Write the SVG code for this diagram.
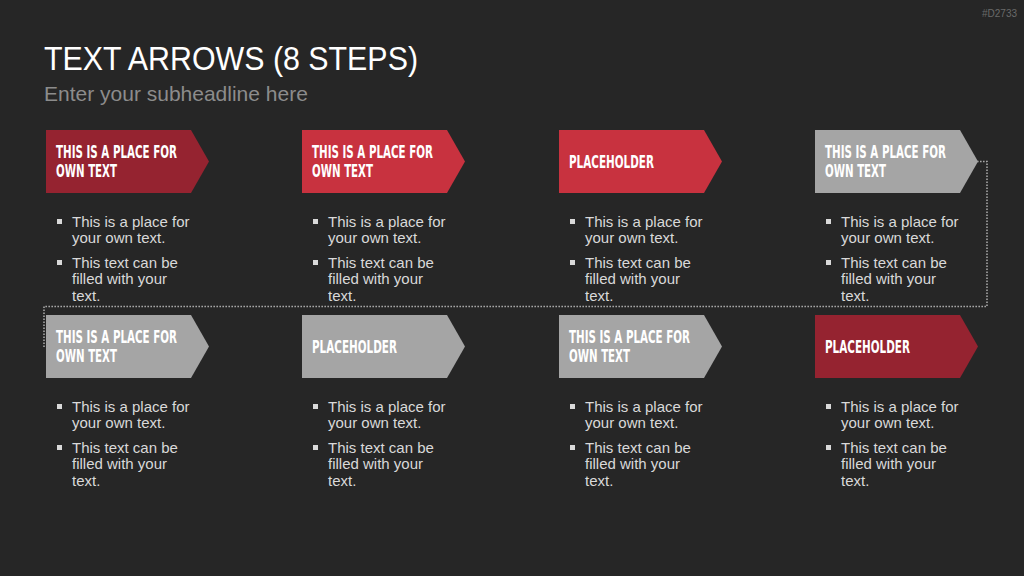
<svg xmlns="http://www.w3.org/2000/svg" width="1024" height="576" viewBox="0 0 1024 576">
<style>
.bg{fill:#262626}
.title{font-family:"Liberation Sans",Arial,sans-serif;font-size:33px;fill:#ffffff}
.sub{font-family:"Liberation Sans",Arial,sans-serif;font-size:21px;fill:#8c8c8c}
.code{font-family:"Liberation Sans",Arial,sans-serif;font-size:10px;fill:#6a6a6a}
.lbl{font-family:"Liberation Sans Narrow","DejaVu Sans Condensed","Liberation Sans",sans-serif;font-weight:bold;font-size:18.5px;fill:#ffffff}
.body{font-family:"Liberation Sans",Arial,sans-serif;font-size:15px;fill:#d9d9d9}
.blt{fill:#d9d9d9}
.dk{fill:#952330}
.rd{fill:#c8323f}
.gr{fill:#a5a5a5}
.conn{fill:none;stroke:#a6a6a6;stroke-width:1.6;stroke-dasharray:1.6 1.4}
</style>
<defs>
<polygon id="arr" points="0,0 145,0 163,31.5 145,63 0,63"/>
<g id="bul">
<rect class="blt" x="11" y="89" width="5" height="5"/>
<rect class="blt" x="11" y="130" width="5" height="5"/>
<text class="body" x="26" y="97">This is a place for</text>
<text class="body" x="26" y="113">your own text.</text>
<text class="body" x="26" y="138">This text can be</text>
<text class="body" x="26" y="154">filled with your</text>
<text class="body" x="26" y="171">text.</text>
</g>
</defs>
<rect class="bg" x="0" y="0" width="1024" height="576"/>
<text class="code" x="1017" y="17" text-anchor="end">#D2733</text>
<text class="title" x="44" y="70" textLength="374" lengthAdjust="spacingAndGlyphs">TEXT ARROWS (8 STEPS)</text>
<text class="sub" x="44" y="101">Enter your subheadline here</text>

<g id="connectors">
<path class="conn" d="M977,161.5 H987 V306.5 H44 V347"/>
</g>

<g id="node1" transform="translate(46,130)">
<use href="#arr" class="dk"/>
<text class="lbl" x="10" y="28" textLength="121" lengthAdjust="spacingAndGlyphs">THIS IS A PLACE FOR</text>
<text class="lbl" x="10" y="47" textLength="61" lengthAdjust="spacingAndGlyphs">OWN TEXT</text>
<use href="#bul"/>
</g>
<g id="node2" transform="translate(302,130)">
<use href="#arr" class="rd"/>
<text class="lbl" x="10" y="28" textLength="121" lengthAdjust="spacingAndGlyphs">THIS IS A PLACE FOR</text>
<text class="lbl" x="10" y="47" textLength="61" lengthAdjust="spacingAndGlyphs">OWN TEXT</text>
<use href="#bul"/>
</g>
<g id="node3" transform="translate(559,130)">
<use href="#arr" class="rd"/>
<text class="lbl" x="10" y="38" textLength="85" lengthAdjust="spacingAndGlyphs">PLACEHOLDER</text>
<use href="#bul"/>
</g>
<g id="node4" transform="translate(815,130)">
<use href="#arr" class="gr"/>
<text class="lbl" x="10" y="28" textLength="121" lengthAdjust="spacingAndGlyphs">THIS IS A PLACE FOR</text>
<text class="lbl" x="10" y="47" textLength="61" lengthAdjust="spacingAndGlyphs">OWN TEXT</text>
<use href="#bul"/>
</g>
<g id="node5" transform="translate(46,315)">
<use href="#arr" class="gr"/>
<text class="lbl" x="10" y="28" textLength="121" lengthAdjust="spacingAndGlyphs">THIS IS A PLACE FOR</text>
<text class="lbl" x="10" y="47" textLength="61" lengthAdjust="spacingAndGlyphs">OWN TEXT</text>
<use href="#bul"/>
</g>
<g id="node6" transform="translate(302,315)">
<use href="#arr" class="gr"/>
<text class="lbl" x="10" y="38" textLength="85" lengthAdjust="spacingAndGlyphs">PLACEHOLDER</text>
<use href="#bul"/>
</g>
<g id="node7" transform="translate(559,315)">
<use href="#arr" class="gr"/>
<text class="lbl" x="10" y="28" textLength="121" lengthAdjust="spacingAndGlyphs">THIS IS A PLACE FOR</text>
<text class="lbl" x="10" y="47" textLength="61" lengthAdjust="spacingAndGlyphs">OWN TEXT</text>
<use href="#bul"/>
</g>
<g id="node8" transform="translate(815,315)">
<use href="#arr" class="dk"/>
<text class="lbl" x="10" y="38" textLength="85" lengthAdjust="spacingAndGlyphs">PLACEHOLDER</text>
<use href="#bul"/>
</g>
</svg>
